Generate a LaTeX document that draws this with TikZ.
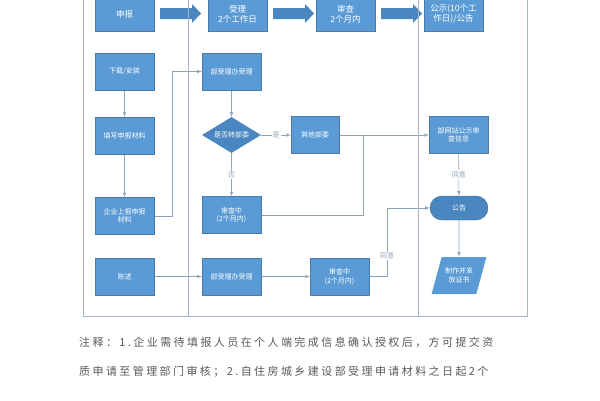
\documentclass[tikz,border=0pt]{standalone}
\usepackage{fontspec}
\setmainfont{Noto Sans CJK SC}
\usetikzlibrary{arrows,shapes.geometric}
\pgfdeclarelayer{nodelayer}
\pgfdeclarelayer{edgelayer}
\pgfsetlayers{edgelayer,nodelayer,main}
\definecolor{boxblue}{HTML}{5B9BD5}
\definecolor{darkblue}{HTML}{4A86C0}
\definecolor{linegray}{HTML}{8FA3B8}
\tikzstyle{box}=[fill=boxblue, draw=boxblue!80!black, line width=0.3pt, shape=rectangle, minimum width=59pt, minimum height=37pt, text=white, font=\fontsize{7}{8.5}\selectfont, align=center, inner sep=1pt]
\tikzstyle{top box}=[box, minimum height=34pt, font=\fontsize{8.5}{10}\selectfont]
\tikzstyle{decision}=[fill=darkblue, draw=none, shape=diamond, aspect=1.6, minimum width=59pt, minimum height=36pt, inner sep=0pt, text=white, font=\fontsize{7}{8.5}\selectfont]
\tikzstyle{term}=[fill=darkblue, draw=boxblue!70!black, rounded corners=12pt, minimum width=58pt, minimum height=24pt, text=white, font=\fontsize{7}{8.5}\selectfont]
\tikzstyle{io}=[fill=boxblue, draw=none, shape=trapezium, trapezium left angle=65, trapezium right angle=115, minimum width=54pt, minimum height=37pt, trapezium stretches body, text=white, font=\fontsize{7}{8.5}\selectfont, align=center]
\tikzstyle{fat arrow}=[fill=darkblue, draw=none]
\tikzstyle{none}=[fill=none, draw=none, text=linegray, font=\fontsize{7}{8.5}\selectfont, inner sep=1pt]
\tikzstyle{note}=[none, anchor=west, text=black!65, font=\fontsize{11}{12}\selectfont\addfontfeature{LetterSpace=22}]
\tikzstyle{flow}=[draw=linegray, line width=0.6pt, -latex]
\tikzstyle{plain}=[draw=linegray, line width=0.6pt]
\tikzstyle{frame}=[draw=linegray!80, line width=0.7pt]
\newcommand{\fatarrow}[1]{\fill [style=fat arrow] (#1, 8) -- ++(32, 0) -- ++(0, -4) -- ++(9, 9.5) -- ++(-9, 9.5) -- ++(0, -4) -- ++(-32, 0) -- cycle;}
\begin{document}
\begin{tikzpicture}[x=1pt, y=-1pt]
	\useasboundingbox (0, 0) rectangle (600, 400);
	% table frame
	\draw [style=frame] (83, -5) -- (83, 316) -- (527, 316) -- (527, -5);
	\draw [style=frame] (188, -5) -- (188, 316);
	\draw [style=frame] (418, -5) -- (418, 316);
	\begin{pgfonlayer}{nodelayer}
		\node [style=top box] (0) at (124.5, 14) {申报};
		\node [style=top box] (1) at (237.5, 14) {受理\\2个工作日};
		\node [style=top box] (2) at (345.5, 14) {审查\\2个月内};
		\node [style=top box] (3) at (453.5, 14) {公示(10个工\\作日)/公告};
		\fatarrow{160}
		\fatarrow{273}
		\fatarrow{381}
		\node [style=box] (4) at (124.5, 71.5) {下载/安装};
		\node [style=box] (5) at (124.5, 135.5) {填写申报材料};
		\node [style=box] (6) at (124.5, 216) {企业上报申报\\材料};
		\node [style=box] (7) at (124.5, 276.5) {陈述};
		\node [style=box] (8) at (231.5, 71.5) {部受理办受理};
		\node [style=decision] (9) at (231.5, 135) {是否转部委};
		\node [style=box, minimum width=48pt] (10) at (315, 135) {其他部委};
		\node [style=box] (11) at (231.5, 215) {审查中\\(2个月内)};
		\node [style=box] (12) at (231.5, 276.5) {部受理办受理};
		\node [style=box] (13) at (339.5, 276.5) {审查中\\(2个月内)};
		\node [style=box] (14) at (458.5, 135) {部网站公示审\\查信息};
		\node [style=term] (15) at (459, 208) {公告};
		\node [style=io] (16) at (459, 275.5) {制作并发\\放证书};
		\node [style=note] (17) at (78, 342) {注释：1.企业需待填报人员在个人端完成信息确认授权后，方可提交资};
		\node [style=note] (18) at (78, 372) {质申请至管理部门审核；2.自住房城乡建设部受理申请材料之日起2个};
	\end{pgfonlayer}
	\begin{pgfonlayer}{edgelayer}
		\draw [style=flow] (4) to (5);
		\draw [style=flow] (5) to (6);
		\draw [style=flow] (6.east) -- (172, 216) -- (172, 71.5) -- (8.west);
		\draw [style=flow] (8) to (9);
		\draw [style=flow] (9) to node [style=none, fill=white] {是} (10);
		\draw [style=flow] (9) to node [style=none, fill=white] {否} (11);
		\draw [style=flow] (10) to (14);
		\draw [style=plain] (11.east) -- (363, 215) -- (363, 135);
		\draw [style=flow] (14) to node [style=none, fill=white] {同意} (15);
		\draw [style=flow] (15) to (16);
		\draw [style=flow] (7) to (12);
		\draw [style=flow] (12) to (13);
		\draw [style=flow] (13.east) -- (387, 276.5) -- node [style=none, fill=white, pos=0.3] {同意} (387, 208) -- (15.west);
	\end{pgfonlayer}
\end{tikzpicture}
\end{document}
